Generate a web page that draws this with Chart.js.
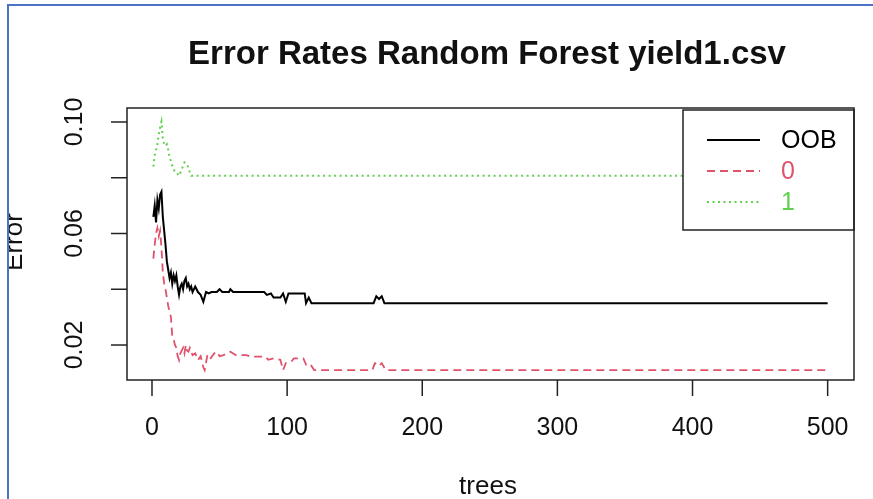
<!DOCTYPE html>
<html>
<head>
<meta charset="utf-8">
<script src="https://cdn.jsdelivr.net/npm/chart.js@4/dist/chart.umd.min.js"></script>
<style>
  html, body { margin: 0; padding: 0; background: #fff; }
  canvas { display: block; }
</style>
</head>
<body>
<canvas id="errchart" width="873" height="499"></canvas>
<script>
// error rate per number of trees
const oobTrees = [1,2,3,4,5,6,7,8,9,10,11,12,13,14,15,16,17,18,19,20,21,22,23,24,25,26,27,28,29,30,32,34,36,38,40,42,44,48,50,52,57,58,60,83,85,88,90,95,97,99,101,103,113,114,116,118,120,164,166,168,170,172,500];
const oobErr = [0.066,0.070,0.064,0.072,0.069,0.074,0.075,0.066,0.061,0.056,0.050,0.047,0.044,0.046,0.042,0.045,0.043,0.045,0.041,0.038,0.041,0.042,0.040,0.043,0.044,0.041,0.042,0.040,0.041,0.039,0.041,0.039,0.038,0.0355,0.039,0.0385,0.039,0.039,0.040,0.039,0.039,0.040,0.039,0.039,0.038,0.0385,0.037,0.037,0.0385,0.0355,0.0385,0.0385,0.0385,0.035,0.037,0.035,0.035,0.035,0.0375,0.0365,0.0375,0.035,0.035];

const class0Trees = [1,2,3,4,5,6,7,8,9,10,11,12,13,14,15,16,17,18,19,20,21,22,23,24,25,26,27,28,30,32,34,36,38,39,41,43,46,48,50,53,56,58,62,70,73,84,86,90,95,97,99,103,105,112,114,116,118,120,163,165,168,170,173,500];
const class0Err = [0.051,0.056,0.060,0.062,0.059,0.061,0.055,0.046,0.042,0.040,0.037,0.034,0.032,0.030,0.023,0.022,0.020,0.019,0.016,0.0146,0.017,0.018,0.019,0.017,0.020,0.018,0.0176,0.019,0.0164,0.017,0.0146,0.016,0.012,0.011,0.0164,0.015,0.017,0.0176,0.016,0.0164,0.017,0.0176,0.0164,0.0164,0.0158,0.0158,0.0147,0.0152,0.0147,0.011,0.0135,0.014,0.0152,0.0152,0.013,0.0135,0.0125,0.011,0.011,0.0135,0.0125,0.0135,0.011,0.011];

const class1Trees = [1,2,3,4,5,6,7,8,9,10,11,12,13,14,15,17,18,20,22,24,26,28,29,500];
const class1Err = [0.084,0.088,0.090,0.092,0.0956,0.098,0.1001,0.094,0.092,0.0914,0.092,0.090,0.0873,0.086,0.0843,0.082,0.0819,0.0807,0.083,0.0855,0.0849,0.082,0.0807,0.0807];

const seriesNames = ["OOB", "0", "1"];
const xTicks = [0, 100, 200, 300, 400, 500];
const xTickLabels = ["0", "100", "200", "300", "400", "500"];
const yTicks = [0.02, 0.04, 0.06, 0.08, 0.10];
const yTickLabels = ["0.02", "", "0.06", "", "0.10"];

const FONT = '"Liberation Sans", Arial, sans-serif';

function pairs(xs, ys) {
    return xs.map((x, i) => ({ x: x, y: ys[i] }));
}

// R style base graphics: box, outer ticks, rotated y labels, boxed legend
const rPlot = {
    id: 'rPlot',
    afterDraw(chart) {
        const ctx = chart.ctx;
        const a = chart.chartArea;
        const xs = chart.scales.x;
        const ys = chart.scales.y;
        ctx.save();

        // legend box (opaque, covers the lines)
        const lx = 683, ly = 110, lw = 171, lh = 120;
        ctx.fillStyle = '#fff';
        ctx.fillRect(lx, ly, lw, lh);
        ctx.strokeStyle = '#222';
        ctx.lineWidth = 1.5;
        ctx.strokeRect(lx, ly, lw, lh);
        const rows = [140, 171, 202];
        chart.data.datasets.forEach((ds, i) => {
            ctx.beginPath();
            ctx.setLineDash(ds.borderDash || []);
            ctx.strokeStyle = ds.borderColor;
            ctx.lineWidth = ds.borderWidth;
            ctx.moveTo(707, rows[i]);
            ctx.lineTo(760, rows[i]);
            ctx.stroke();
            ctx.setLineDash([]);
            ctx.fillStyle = ds.borderColor;
            ctx.font = '25px ' + FONT;
            ctx.textAlign = 'left';
            ctx.textBaseline = 'middle';
            ctx.fillText(ds.label, 781, rows[i] + 1);
        });

        // plot box
        ctx.strokeStyle = '#222';
        ctx.lineWidth = 1.5;
        ctx.strokeRect(a.left, a.top, a.right - a.left, a.bottom - a.top);

        // x axis
        ctx.fillStyle = '#111';
        ctx.font = '25px ' + FONT;
        ctx.textAlign = 'center';
        ctx.textBaseline = 'middle';
        xTicks.forEach((v, i) => {
            const px = xs.getPixelForValue(v);
            ctx.beginPath();
            ctx.moveTo(px, a.bottom);
            ctx.lineTo(px, a.bottom + 16);
            ctx.stroke();
            ctx.fillText(xTickLabels[i], px, 428);
        });

        // y axis
        yTicks.forEach((v, i) => {
            const py = ys.getPixelForValue(v);
            ctx.beginPath();
            ctx.moveTo(a.left, py);
            ctx.lineTo(a.left - 16, py);
            ctx.stroke();
            if (yTickLabels[i]) {
                ctx.save();
                ctx.translate(75, py);
                ctx.rotate(-Math.PI / 2);
                ctx.fillText(yTickLabels[i], 0, 0);
                ctx.restore();
            }
        });

        // axis titles
        ctx.font = '26px ' + FONT;
        ctx.fillText('trees', 488, 487);
        ctx.save();
        ctx.translate(15, 242);
        ctx.rotate(-Math.PI / 2);
        ctx.fillText('Error', 0, 0);
        ctx.restore();

        // main title
        ctx.font = 'bold 33px ' + FONT;
        ctx.fillText('Error Rates Random Forest yield1.csv', 487, 55);

        // blue frame of the screenshot
        ctx.fillStyle = '#fff';
        ctx.fillRect(0, 0, 7, 499);
        ctx.fillRect(0, 0, 873, 4);
        ctx.strokeStyle = '#4a72c6';
        ctx.lineWidth = 2;
        ctx.beginPath();
        ctx.moveTo(8, 499);
        ctx.lineTo(8, 5);
        ctx.lineTo(873, 5);
        ctx.stroke();

        ctx.restore();
    }
};

new Chart(document.getElementById('errchart').getContext('2d'), {
    type: 'scatter',
    data: {
        datasets: [
            {
                label: seriesNames[0],
                data: pairs(oobTrees, oobErr),
                borderColor: '#000000',
                borderWidth: 2
            },
            {
                label: seriesNames[1],
                data: pairs(class0Trees, class0Err),
                borderColor: '#DF536B',
                borderWidth: 1.8,
                borderDash: [8, 5]
            },
            {
                label: seriesNames[2],
                data: pairs(class1Trees, class1Err),
                borderColor: '#61D04F',
                borderWidth: 2,
                borderDash: [2, 3.5]
            }
        ].map(ds => Object.assign(ds, { showLine: true, pointRadius: 0, tension: 0, fill: false }))
    },
    options: {
        responsive: false,
        devicePixelRatio: 1,
        animation: false,
        layout: { padding: { left: 127, top: 108, right: 19, bottom: 119 } },
        plugins: { legend: { display: false }, tooltip: { enabled: false }, title: { display: false } },
        scales: {
            x: { type: 'linear', display: false, min: -18.5, max: 519.5 },
            y: { type: 'linear', display: false, min: 0.00745, max: 0.10502 }
        }
    },
    plugins: [rPlot]
});
</script>
</body>
</html>
